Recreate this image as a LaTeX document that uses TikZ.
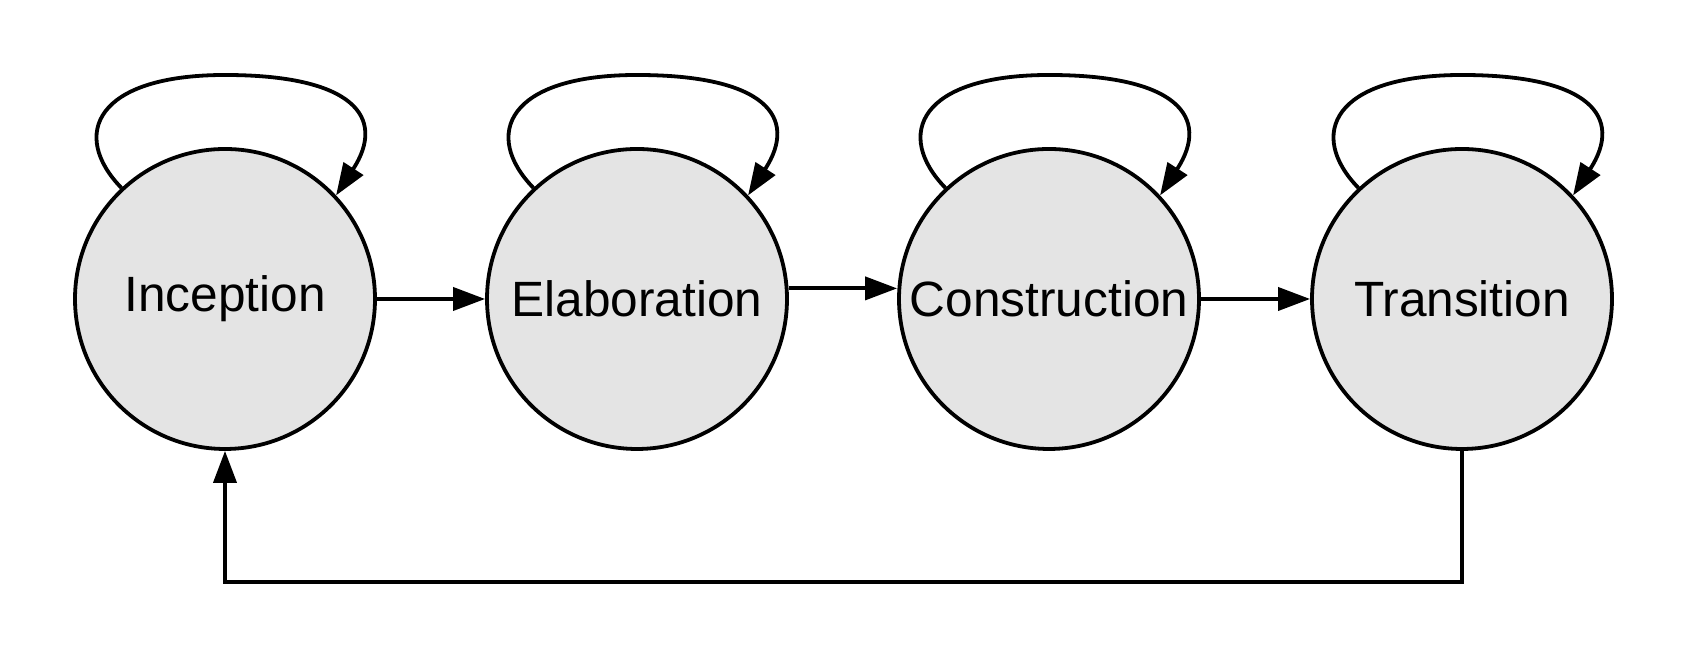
\documentclass[tikz,border=0pt]{standalone}
\usepackage{fontspec}
\setmainfont{Liberation Sans}
\usepackage{xcolor}
\usepackage{tikz}
\usetikzlibrary{arrows.meta, calc, positioning}
\definecolor{stagefill}{HTML}{E4E4E4}
\providecommand{\SelfLoop}[1]{%
  % loop over the top of the phase circle
  \edef\lnode{#1}%
  \draw[flow] (\lnode.133) .. controls ($ (\lnode)+(-155,164) $) and ($ (\lnode)+(-130,224) $) .. ($ (\lnode)+(0,224) $)
    .. controls ($ (\lnode)+(128,224) $) and ($ (\lnode)+(162,182) $) .. (\lnode.43);
}
\tikzset{
  phase/.style={circle, draw=black, fill=stagefill, line width=1.9pt, minimum size=150pt, inner sep=0pt,
    font=\fontsize{24.8}{29}\selectfont},
  flow/.style={line width=1.9pt, -{Triangle[length=16pt, width=11.5pt]}}
}
\begin{document}
\begin{tikzpicture}[x=0.5pt, y=0.5pt]

	\useasboundingbox (0,0) rectangle (1688,656);

	\node[phase] (inc) at (225,357) {Inception};
	\node[phase] (elab) at (637,357) {Elaboration};
	\node[phase] (cons) at (1049,357) {Construction};
	\node[phase] (trans) at (1462,357) {Transition};

	\draw[flow] (inc.east) -- (elab.west);
	\draw[flow] (elab.4) -- (elab.4 -| cons.west);
	\draw[flow] (cons.east) -- (trans.west);

	\SelfLoop{inc}
	\SelfLoop{elab}
	\SelfLoop{cons}
	\SelfLoop{trans}

	\draw[flow] (trans.south) -- ++(0,-131) -| (inc.south);

\end{tikzpicture}
\end{document}
